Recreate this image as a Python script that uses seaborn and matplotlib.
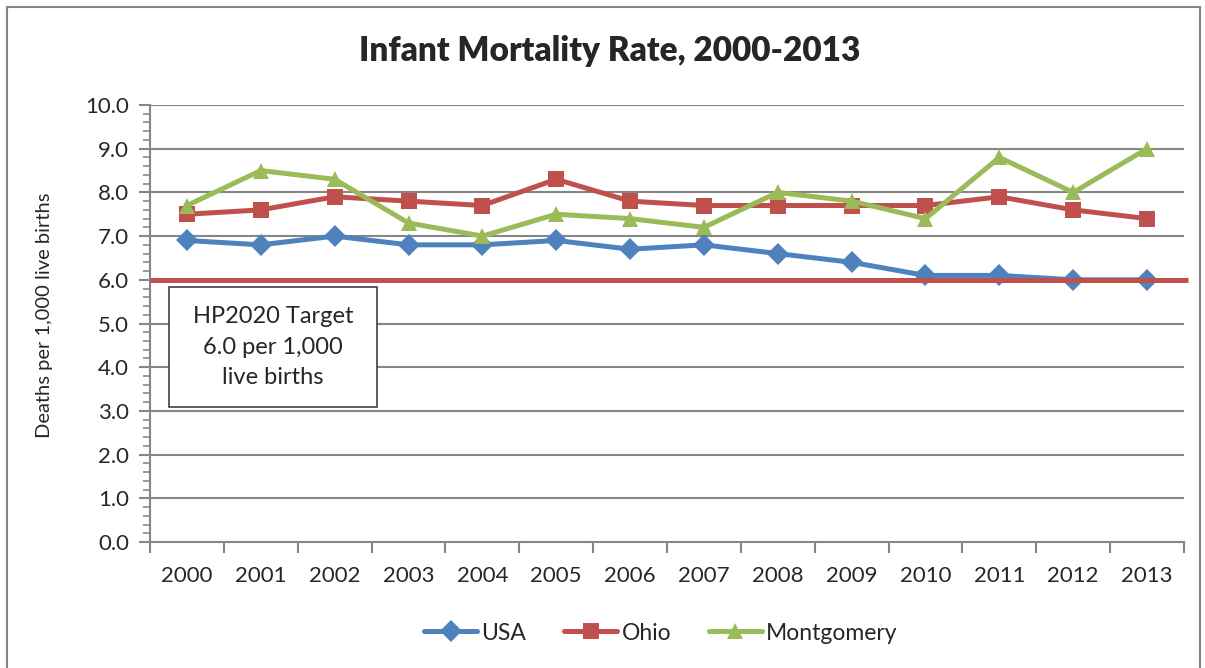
import matplotlib
matplotlib.use("Agg")
import matplotlib.pyplot as plt
from matplotlib.ticker import MultipleLocator, FixedLocator
import numpy as np
import pandas as pd
import seaborn as sns

years = ["2000", "2001", "2002", "2003", "2004", "2005", "2006",
         "2007", "2008", "2009", "2010", "2011", "2012", "2013"]
usa = [6.9, 6.8, 7.0, 6.8, 6.8, 6.9, 6.7, 6.8, 6.6, 6.4, 6.1, 6.1, 6.0, 6.0]
ohio = [7.5, 7.6, 7.9, 7.8, 7.7, 8.3, 7.8, 7.7, 7.7, 7.7, 7.7, 7.9, 7.6, 7.4]
montgomery = [7.7, 8.5, 8.3, 7.3, 7.0, 7.5, 7.4, 7.2, 8.0, 7.8, 7.4, 8.8, 8.0, 9.0]
target = 6.0

series = ["USA", "Ohio", "Montgomery"]
colors = {"USA": "#4F81BD", "Ohio": "#C0504D", "Montgomery": "#9BBB59"}
markers = {"USA": "D", "Ohio": "s", "Montgomery": "^"}

df = pd.DataFrame({
    "pos": list(range(len(years))) * 3,
    "rate": usa + ohio + montgomery,
    "area": ["USA"] * len(years) + ["Ohio"] * len(years) + ["Montgomery"] * len(years),
})

sns.set_style("white")
plt.rcParams["font.family"] = ["Lato", "DejaVu Sans"]

fig = plt.figure(figsize=(12.05, 6.68), dpi=100)
ax = fig.add_axes([150 / 1205, 1 - 542 / 668, (1184 - 150) / 1205, (542 - 105) / 668])

# gridlines
for v in np.arange(1, 11):
    ax.axhline(v, color="#868686", lw=1.5, zorder=0)

sns.lineplot(data=df, x="pos", y="rate", hue="area", style="area",
             hue_order=series, style_order=series, palette=colors,
             markers=markers, dashes=False, lw=3.6, markersize=11,
             markeredgewidth=0, ax=ax, legend=False, zorder=3)

# HP2020 target line
ax.plot([-0.5, 13.55], [target, target], color="#C0504D", lw=3.6,
        zorder=4, clip_on=False, solid_capstyle="butt")

ax.set_xlim(-0.5, 13.5)
ax.set_ylim(0, 10)
ax.set_xlabel("")
ax.set_ylabel("")
fig.text(45 / 1205, 1 - 315 / 668, "Deaths per 1,000 live births", rotation=90,
         ha="center", va="center", fontsize=14.5)

ax.yaxis.set_major_locator(MultipleLocator(1))
ax.yaxis.set_minor_locator(MultipleLocator(0.2))
ax.set_yticklabels([f"{v:.1f}" for v in ax.get_yticks()])
ax.tick_params(axis="y", which="major", length=8, width=1.5, color="#868686",
               labelsize=16, pad=7, left=True)
ax.tick_params(axis="y", which="minor", length=5, width=1.2, color="#868686", left=True)

ax.xaxis.set_major_locator(FixedLocator(np.arange(-0.5, 14, 1)))
ax.xaxis.set_minor_locator(FixedLocator(np.arange(0, 14)))
ax.set_xticklabels([""] * 15)
ax.set_xticklabels(years, minor=True)
ax.tick_params(axis="x", which="major", length=8, width=1.5, color="#868686", bottom=True)
ax.tick_params(axis="x", which="minor", length=0, labelsize=16, pad=17)

for side in ["top", "right"]:
    ax.spines[side].set_visible(False)
for side in ["left", "bottom"]:
    ax.spines[side].set_color("#868686")
    ax.spines[side].set_linewidth(1.5)

# target text box
fig.text(273 / 1205, 1 - 347 / 668, "HP2020 Target\n6.0 per 1,000\nlive births",
         ha="center", va="center", fontsize=17, linespacing=1.55, zorder=10)
box = plt.Rectangle((169 / 1205, 1 - 407 / 668), 208 / 1205, 120 / 668,
                    transform=fig.transFigure, facecolor="white",
                    edgecolor="#404040", lw=1.2, zorder=9)
fig.add_artist(box)

# chart frame
frame = plt.Rectangle((7 / 1205, -0.01), 1193 / 1205, 1 - 7 / 668 + 0.01,
                      transform=fig.transFigure, fill=False,
                      edgecolor="#868686", lw=1.5)
fig.add_artist(frame)

fig.text(610 / 1205, 1 - 51 / 668, "Infant Mortality Rate, 2000-2013",
         ha="center", va="center", fontsize=24, fontweight=800)

handles = [plt.Line2D([], [], color=colors[s], marker=markers[s], lw=3.6,
                      markersize=11, markeredgewidth=0) for s in series]
fig.legend(handles, series, loc="center", bbox_to_anchor=(661 / 1205, 1 - 633 / 668),
           ncol=3, frameon=False, fontsize=16.5, handlelength=2.3,
           columnspacing=1.65, handletextpad=0.2)

fig.savefig("out.png", dpi=100)
